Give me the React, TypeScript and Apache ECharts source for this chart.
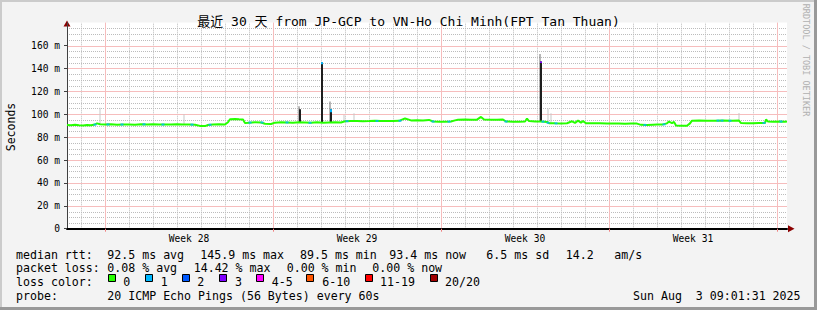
import React, { useEffect, useRef } from "react";
import * as echarts from "echarts";

// ---------- data ----------
const TITLE = "最近 30 天 from JP-GCP to VN-Ho Chi Minh(FPT Tan Thuan)";

// hours since start of the 30-day window (720 h) and median rtt (ms)
const RTT_HOURS = [
  0, 4, 8, 12, 16, 20, 24, 28, 30, 33, 38, 44, 50, 56, 62, 68, 74, 80, 86, 92,
  98, 104, 110, 116, 122, 128, 133, 138, 141, 146, 152, 158, 161, 163, 168, 172,
  176, 178, 182, 188, 194, 198, 204, 208, 214, 220, 226, 232, 238, 244, 250, 256,
  262, 268, 274, 278, 284, 290, 296, 302, 308, 314, 320, 326, 332, 338, 341, 344,
  350, 356, 362, 366, 372, 378, 384, 388, 391, 398, 404, 410, 414, 417, 424, 430,
  436, 439, 446, 452, 458, 460, 462, 468, 474, 480, 482, 488, 494, 500, 505, 508,
  511, 514, 516, 519, 526, 533, 540, 546, 552, 558, 564, 570, 574, 580, 586, 590,
  596, 600, 602, 605, 607, 609, 614, 620, 623, 625, 632, 640, 648, 656, 664, 672,
  674, 680, 686, 692, 698, 699, 701, 706, 712, 718, 720,
];
const RTT_MEDIAN = [
  90.6, 90.3, 90.7, 90.4, 90.2, 90.6, 90.4, 91.0, 92.0, 91.3, 91.0, 91.2, 90.8, 91.1, 91.0, 90.7, 91.3, 91.0, 91.2, 90.9,
  91.1, 91.0, 91.3, 90.9, 91.0, 90.8, 89.8, 89.6, 90.6, 91.0, 91.2, 91.0, 93.0, 95.6, 95.8, 95.5,
  95.3, 92.2, 92.6, 93.0, 92.8, 91.6, 91.4, 92.6, 92.9, 92.8, 92.6, 92.9, 92.7, 92.5, 93.0, 92.6,
  92.8, 93.0, 92.7, 93.8, 94.0, 94.1, 93.9, 94.0, 94.2, 94.0, 94.1, 94.0, 94.2, 96.3, 95.5, 94.6,
  94.8, 94.6, 95.0, 93.6, 93.5, 93.4, 93.6, 94.6, 95.2, 95.3, 95.1, 95.2, 97.6, 95.4, 95.2, 95.1,
  95.3, 93.6, 93.5, 93.4, 93.6, 96.2, 94.0, 93.7, 93.6, 93.2, 92.2, 92.0, 91.9, 92.1, 93.8, 92.4,
  94.4, 92.6, 94.0, 92.1, 92.0, 92.1, 91.9, 91.8, 91.9, 91.7, 91.9, 91.8, 90.7, 90.5, 90.8, 91.0,
  91.1, 92.0, 93.6, 92.2, 93.3, 90.2, 90.0, 89.9, 92.0, 94.3, 94.4, 94.3, 94.2, 94.5, 94.3, 94.4,
  92.3, 92.2, 92.1, 92.3, 92.4, 95.3, 93.6, 93.5, 93.7, 93.5, 93.6,
];

// light grey smoke spikes
const LIGHT_SMOKE_HOURS = [33, 117, 232, 263, 277, 287, 473, 481, 484, 672];
const LIGHT_SMOKE_BASE = [91.3, 91.0, 92.9, 92.8, 93.8, 94.1, 93.6, 92.2, 92.2, 94.4];
const LIGHT_SMOKE_TOP = [105.6, 100.0, 107.0, 111.0, 99.3, 100.8, 152.6, 105.0, 100.8, 101.0];
const LIGHT_SMOKE_SHADE = [0, 0, 1, 1, 0, 0, 1, 0, 0, 0];

// dark smoke spikes
const DARK_SMOKE_HOURS = [233, 255, 264, 474];
const DARK_SMOKE_BASE = [92.9, 92.6, 92.8, 93.6];
const DARK_SMOKE_TOP = [104.3, 145.2, 104.3, 146.0];

// loss-coloured tips of the median on the spikes
const TIP_HOURS = [255, 264, 474];
const TIP_LOW = [143.6, 101.8, 144.8];
const TIP_HIGH = [145.4, 104.3, 146.0];
const TIP_LOSS = [1, 1, 3];

// loss-coloured bits of the median line
const LOSS_MARK_HOURS = [28, 41, 55, 77, 96, 125, 143, 183, 195, 220, 243, 280, 310, 333, 366, 382, 439, 476, 481, 489, 578, 597, 651, 655, 663, 697, 714];
const LOSS_MARK_VALUES = [90.9, 91.1, 91.0, 91.2, 91.0, 90.9, 90.8, 92.7, 92.8, 92.8, 92.5, 93.9, 94.1, 94.2, 93.6, 93.5, 93.6, 93.5, 92.5, 92.0, 90.6, 91.1, 94.4, 94.4, 94.3, 92.4, 93.6];
const LOSS_MARK_LOSS = [1, 1, 1, 1, 1, 1, 1, 1, 1, 1, 1, 1, 1, 1, 1, 1, 1, 1, 1, 1, 1, 1, 1, 1, 1, 1, 1];

const LOSS_LABELS = ["0", "1", "2", "3", "4-5", "6-10", "11-19", "20/20"];
const LOSS_COLORS = ["#26ff00", "#00b8ff", "#0059ff", "#7e00ff", "#ff00ff", "#ff5500", "#ff0000", "#a00000"];

const WEEK_LABELS = ["Week 28", "Week 29", "Week 30", "Week 31"];
const WEEK_LABEL_HOURS = [122, 290, 458, 626];
const WEEK_LINE_HOURS = [38, 206, 374, 542, 710];
const DAY_LINE_HOURS = [14, 62, 86, 110, 134, 158, 182, 230, 254, 278, 302, 326, 350, 398, 422, 446, 470, 494, 518, 566, 590, 614, 638, 662, 686];

const Y_MAX = 180;
const Y_TICKS = [0, 20, 40, 60, 80, 100, 120, 140, 160];
const Y_MAJOR_LINES = [20, 40, 60, 80, 100, 120, 140, 160];
const Y_MINOR_LINES = [5, 10, 15, 25, 30, 35, 45, 50, 55, 65, 70, 75, 85, 90, 95, 105, 110, 115, 125, 130, 135, 145, 150, 155, 165, 170, 175];

const RTT_LABELS = ["median rtt:", "92.5 ms avg", "145.9 ms max", "89.5 ms min", "93.4 ms now", "6.5 ms sd", "14.2", "am/s"];
const LOSS_STAT_LABELS = ["packet loss:", "0.08 % avg", "14.42 % max", "0.00 % min", "0.00 % now"];
const PROBE_LABELS = ["probe:", "20 ICMP Echo Pings (56 Bytes) every 60s"];
const DATE_LABEL = "Sun Aug  3 09:01:31 2025";

// ---------- layout ----------
const MONO = '"DejaVu Sans Mono", "Noto Sans CJK SC", monospace';
const RTT_X = [16, 107.3, 200.3, 300, 389.3, 486.3, 565.7, 614.3];
const LOSS_X = [16, 107.3, 193.7, 286.7, 372.3];
const PROBE_X = [16, 107.3];
const SQUARE_X = [108.5, 145.5, 182.5, 219.5, 256.5, 306.5, 365.5, 430.5];
const LEGEND_LABEL_X = [123.3, 160.7, 197.3, 235, 271.7, 322.3, 380, 445];
const ROW_Y = [254.5, 268, 282, 296];
const GRID = { left: 67, top: 22.6, width: 720, height: 206.1 };
const MINOR_COLOR = "#bcbcbc";
const MAJOR_COLOR = "#f6bdbd";

function txt(x: number, y: number, text: string, size = 11.6, fill = "#000") {
  return {
    type: "text",
    x,
    y,
    silent: true,
    style: {
      text,
      font: `${size}px ${MONO}`,
      fill,
      textAlign: "left",
      textVerticalAlign: "middle",
      align: "left",
      verticalAlign: "middle",
    },
  };
}

function spikeRenderer(width: number, colorOf: (idx: number) => string) {
  return (params: any, api: any) => {
    const x = api.value(0);
    const lo = api.value(1);
    const hi = api.value(2);
    const pTop = api.coord([x, hi]);
    const pBot = api.coord([x, lo]);
    return {
      type: "rect",
      shape: { x: pTop[0] - width / 2, y: pTop[1], width, height: pBot[1] - pTop[1] },
      style: { fill: colorOf(params.dataIndex) },
    };
  };
}

function vLineRenderer(color: string, dash: any) {
  return (_p: any, api: any) => {
    const h = api.value(0);
    const a = api.coord([h, 0]);
    const b = api.coord([h, Y_MAX]);
    const x = Math.round(a[0]) + 0.5;
    return {
      type: "line",
      shape: { x1: x, y1: a[1], x2: x, y2: b[1] },
      style: { stroke: color, lineWidth: 1, lineDash: dash, fill: null },
    };
  };
}

function hLineRenderer(color: string, dash: any) {
  return (_p: any, api: any) => {
    const v = api.value(1);
    const a = api.coord([0, v]);
    const b = api.coord([720, v]);
    const y = Math.round(a[1]) + 0.5;
    return {
      type: "line",
      shape: { x1: a[0], y1: y, x2: b[0], y2: y },
      style: { stroke: color, lineWidth: 1, lineDash: dash, fill: null },
    };
  };
}

export default function App() {
  const ref = useRef<HTMLDivElement>(null);
  useEffect(() => {
    document.body.style.margin = "0";
    if (!ref.current) return;
    const chart = echarts.init(ref.current, undefined, { renderer: "svg" });

    const graphics: any[] = [];
    // plot canvas
    graphics.push({ type: "rect", z: -1, shape: { x: GRID.left, y: GRID.top, width: GRID.width, height: GRID.height }, style: { fill: "#ffffff" }, silent: true });
    // frame
    graphics.push({ type: "rect", shape: { x: 0, y: 0, width: 817, height: 2 }, style: { fill: "#cbcbcb" }, silent: true });
    graphics.push({ type: "rect", shape: { x: 0, y: 0, width: 2, height: 310 }, style: { fill: "#cbcbcb" }, silent: true });
    graphics.push({ type: "rect", shape: { x: 0, y: 307, width: 817, height: 3 }, style: { fill: "#999999" }, silent: true });
    graphics.push({ type: "rect", shape: { x: 814, y: 0, width: 3, height: 310 }, style: { fill: "#999999" }, silent: true });
    // arrows
    graphics.push({ type: "polygon", shape: { points: [[63.5, 26.5], [70.5, 26.5], [67, 20.5]] }, style: { fill: "#8b0000" }, silent: true });
    graphics.push({ type: "polygon", shape: { points: [[788, 225.2], [788, 232.2], [794.5, 228.7]] }, style: { fill: "#8b0000" }, silent: true });
    // y axis title
    graphics.push({
      type: "text",
      x: 10.5,
      y: 127,
      rotation: Math.PI / 2,
      silent: true,
      style: {
        text: "Seconds",
        font: `11.5px ${MONO}`,
        fill: "#000",
        textAlign: "center",
        textVerticalAlign: "middle",
        align: "center",
        verticalAlign: "middle",
      },
    });
    // vertical credit
    graphics.push({
      type: "text",
      x: 806,
      y: 60,
      rotation: -Math.PI / 2,
      silent: true,
      style: {
        text: "RRDTOOL / TOBI OETIKER",
        font: `8.5px ${MONO}`,
        fill: "#b0b0b0",
        textAlign: "center",
        textVerticalAlign: "middle",
        align: "center",
        verticalAlign: "middle",
      },
    });
    // legend rows
    RTT_LABELS.forEach((t, i) => graphics.push(txt(RTT_X[i], ROW_Y[0], t)));
    LOSS_STAT_LABELS.forEach((t, i) => graphics.push(txt(LOSS_X[i], ROW_Y[1], t)));
    graphics.push(txt(16, ROW_Y[2], "loss color:"));
    LOSS_LABELS.forEach((t, i) => {
      graphics.push({
        type: "rect",
        shape: { x: SQUARE_X[i], y: 274.5, width: 7, height: 7 },
        style: { fill: LOSS_COLORS[i], stroke: "#000", lineWidth: 1 },
        silent: true,
      });
      graphics.push(txt(LEGEND_LABEL_X[i], ROW_Y[2], t));
    });
    PROBE_LABELS.forEach((t, i) => graphics.push(txt(PROBE_X[i], ROW_Y[3], t)));
    graphics.push(txt(633, ROW_Y[3], DATE_LABEL));

    const medianData = RTT_HOURS.map((h, i) => [h, RTT_MEDIAN[i]]);
    const lightData = LIGHT_SMOKE_HOURS.map((h, i) => [h, LIGHT_SMOKE_BASE[i], LIGHT_SMOKE_TOP[i]]);
    const darkData = DARK_SMOKE_HOURS.map((h, i) => [h, DARK_SMOKE_BASE[i], DARK_SMOKE_TOP[i]]);
    const tipData = TIP_HOURS.map((h, i) => [h, TIP_LOW[i], TIP_HIGH[i]]);
    const lossMarkData = LOSS_MARK_HOURS.map((h, i) => ({
      value: [h, LOSS_MARK_VALUES[i]],
      itemStyle: { color: LOSS_COLORS[LOSS_MARK_LOSS[i]] },
    }));

    const option: any = {
      animation: false,
      backgroundColor: "#f3f3f3",
      title: {
        text: TITLE,
        left: "center",
        top: 15,
        padding: 0,
        textStyle: { fontFamily: MONO, fontSize: 13, fontWeight: "normal", color: "#000" },
      },
      grid: {
        left: GRID.left,
        top: GRID.top,
        width: GRID.width,
        height: GRID.height,
        show: false,
        containLabel: false,
        outerBoundsMode: "none",
      },
      xAxis: {
        type: "value",
        min: 0,
        max: 720,
        z: 5,
        axisLine: { show: true, lineStyle: { color: "#000", width: 2 } },
        splitLine: { show: false },
        axisTick: { show: true, customValues: WEEK_LINE_HOURS, length: 3, lineStyle: { color: "#f08080" } },
        axisLabel: {
          show: true,
          customValues: WEEK_LABEL_HOURS,
          formatter: (v: number) => {
            const i = WEEK_LABEL_HOURS.indexOf(v);
            return i >= 0 ? WEEK_LABELS[i] : "";
          },
          fontFamily: MONO,
          fontSize: 9.6,
          color: "#000",
          margin: 5,
        },
      },
      yAxis: {
        type: "value",
        min: 0,
        max: Y_MAX,
        interval: 20,
        z: 5,
        axisLine: { show: true, lineStyle: { color: "#404040", width: 1 } },
        axisTick: { show: true, customValues: Y_TICKS, length: 3, lineStyle: { color: "#404040" } },
        axisLabel: {
          show: true,
          customValues: Y_TICKS,
          fontFamily: MONO,
          fontSize: 9.6,
          color: "#000",
          margin: 7,
          formatter: (v: number) => (v === 0 ? "0" : `${v} m`),
        },
        splitLine: { show: false },
      },
      graphic: graphics,
      series: [
        {
          type: "custom",
          silent: true,
          z: 1,
          data: Y_MINOR_LINES.map((v) => [0, v]),
          encode: { x: 0, y: 1 },
          renderItem: hLineRenderer(MINOR_COLOR, "dotted"),
        },
        {
          type: "custom",
          silent: true,
          z: 1,
          data: DAY_LINE_HOURS.map((h) => [h, 0]),
          encode: { x: 0, y: 1 },
          renderItem: vLineRenderer(MINOR_COLOR, "dotted"),
        },
        {
          type: "custom",
          silent: true,
          z: 2,
          data: Y_MAJOR_LINES.map((v) => [0, v]),
          encode: { x: 0, y: 1 },
          renderItem: hLineRenderer(MAJOR_COLOR, null),
        },
        {
          type: "custom",
          silent: true,
          z: 2,
          data: WEEK_LINE_HOURS.map((h) => [h, 0]),
          encode: { x: 0, y: 1 },
          renderItem: vLineRenderer(MAJOR_COLOR, null),
        },
        {
          type: "custom",
          silent: true,
          z: 3,
          data: lightData,
          encode: { x: 0, y: [1, 2] },
          renderItem: spikeRenderer(1, (i) => (LIGHT_SMOKE_SHADE[i] ? "#707070" : "#c8c8c8")),
        },
        {
          type: "custom",
          silent: true,
          z: 4,
          data: darkData,
          encode: { x: 0, y: [1, 2] },
          renderItem: spikeRenderer(2, () => "#1e1e1e"),
        },
        {
          type: "line",
          silent: true,
          z: 5,
          data: medianData,
          showSymbol: false,
          symbol: "none",
          lineStyle: { color: "#26ff00", width: 2 },
        },
        {
          type: "scatter",
          silent: true,
          z: 6,
          data: lossMarkData,
          symbol: "rect",
          symbolSize: [3, 2],
        },
        {
          type: "custom",
          silent: true,
          z: 7,
          data: tipData,
          encode: { x: 0, y: [1, 2] },
          renderItem: spikeRenderer(2, (i) => LOSS_COLORS[TIP_LOSS[i]]),
        },
      ],
    };
    chart.setOption(option);
    return () => chart.dispose();
  }, []);
  return (
    <div
      ref={ref}
      style={{ position: "absolute", left: 0, top: 0, width: 817, height: 310 }}
    />
  );
}
